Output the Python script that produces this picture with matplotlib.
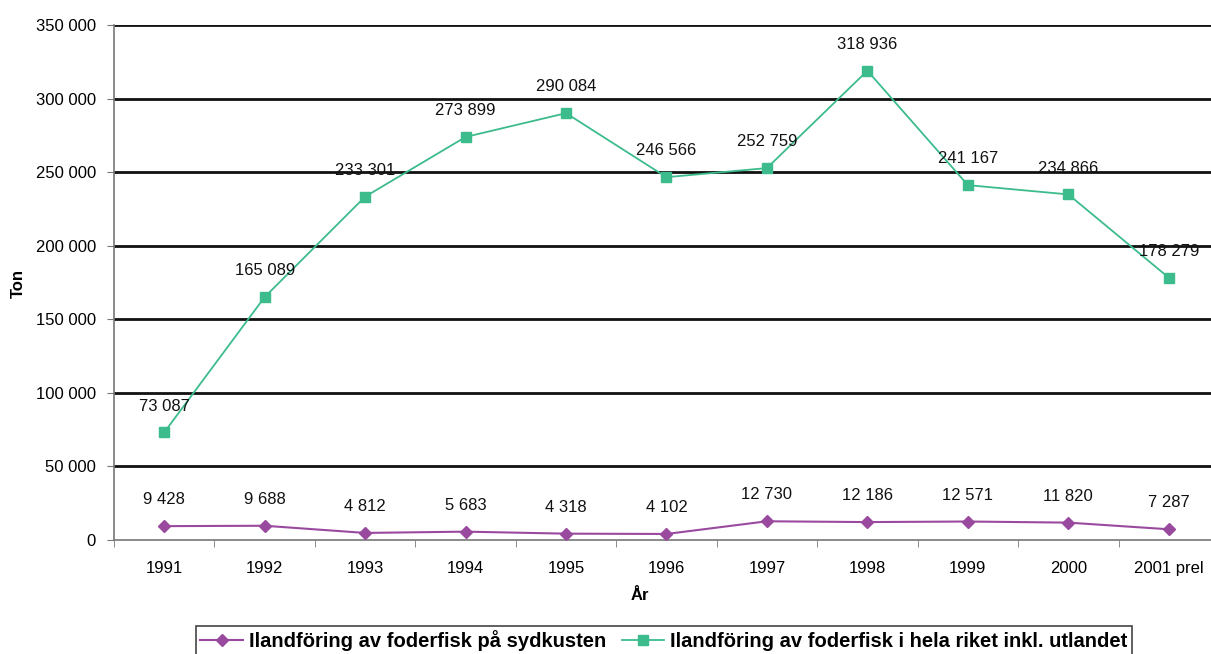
import numpy as np
import matplotlib.pyplot as plt

plt.rcParams['font.family'] = ['Liberation Sans', 'DejaVu Sans']

years = ['1991', '1992', '1993', '1994', '1995', '1996', '1997', '1998',
         '1999', '2000', '2001 prel']
sydkusten = [9428, 9688, 4812, 5683, 4318, 4102, 12730, 12186, 12571, 11820, 7287]
hela_riket = [73087, 165089, 233301, 273899, 290084, 246566, 252759, 318936,
              241167, 234866, 178279]

purple = '#9A4A9E'
green = '#3CBC8C'
fs = 12


def fmt(v):
    return f'{v:,}'.replace(',', ' ')


fig = plt.figure(figsize=(12.11, 6.54), dpi=100)
ax = fig.add_axes([0.0941, 0.1743, 0.9125, 0.7875])

x = np.arange(len(years))
ax.plot(x, sydkusten, color=purple, lw=1.5, marker='D', ms=6.5,
        label='Ilandföring av foderfisk på sydkusten', zorder=3)
ax.plot(x, hela_riket, color=green, lw=1.3, marker='s', ms=7,
        label='Ilandföring av foderfisk i hela riket inkl. utlandet', zorder=3)

for xi, v in zip(x, sydkusten):
    ax.annotate(fmt(v), (xi, v), xytext=(0, 19), textcoords='offset points',
                ha='center', va='center', fontsize=fs, color='#111111')
for xi, v in zip(x, hela_riket):
    ax.annotate(fmt(v), (xi, v), xytext=(0, 19), textcoords='offset points',
                ha='center', va='center', fontsize=fs, color='#111111')

ax.set_xlim(-0.5, len(years) - 0.5)
ax.set_ylim(0, 350000)
yt = np.arange(0, 350001, 50000)
ax.set_yticks(yt)
ax.set_yticklabels([fmt(v) for v in yt], fontsize=fs)
ax.set_xticks(x)
ax.set_xticklabels(years, fontsize=fs)
ax.set_xticks(np.arange(-0.5, len(years)), minor=True)
ax.tick_params(axis='x', which='major', length=0, pad=15)
ax.tick_params(axis='x', which='minor', length=5, color='#777777')
ax.tick_params(axis='y', length=5, color='#777777', direction='out', pad=8)

for v in yt[1:]:
    ax.axhline(v, color='#111111', lw=2, zorder=1)

for s in ['top', 'right']:
    ax.spines[s].set_visible(False)
for s in ['left', 'bottom']:
    ax.spines[s].set_color('#777777')
    ax.spines[s].set_linewidth(1.2)

# axis titles
fig.text(18 / 1211, 1 - 283 / 654, 'Ton', rotation=90, ha='center', va='center',
         fontsize=fs, fontweight='bold')
fig.text(640 / 1211, 1 - 595 / 654, 'År', ha='center', va='center',
         fontsize=fs, fontweight='bold')

leg = fig.legend(loc='upper center', bbox_to_anchor=(664 / 1211, 1 - 626 / 654),
                 ncol=2, prop={'weight': 'bold', 'size': 14.5},
                 fancybox=False, framealpha=1, edgecolor='#444444',
                 handlelength=2.1, handletextpad=0.3, columnspacing=0.8,
                 borderpad=0.22, borderaxespad=0)
leg.get_frame().set_linewidth(1.2)

fig.savefig('out.png', dpi=100)
